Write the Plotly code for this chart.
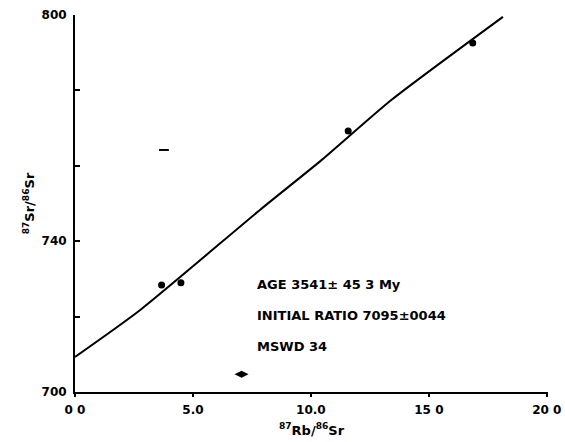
import plotly.graph_objects as go

# data
rb_sr = [3.67, 4.49, 11.58, 16.86]
sr_sr = [728.4, 729.0, 769.2, 792.6]
outlier_x = [7.06]
outlier_y = [704.7]
mark_x = [3.77]
mark_y = [764.2]
fit_x = [0.0, 2.75, 7.84, 10.45, 13.42, 18.14]
fit_y = [709.3, 721.7, 748.3, 761.5, 777.5, 799.5]

x_ticks = [0, 5, 10, 15, 20]
x_tick_text = ["0 0", "5.0", "10.0", "15 0", "20 0"]
y_ticks = [700, 740, 800]
y_tick_text = ["700", "740", "800"]

annot_lines = ["AGE 3541± 45 3 My", "INITIAL RATIO 7095±0044", "MSWD 34"]
annot_y = [728.4, 720.4, 712.2]

FONT = "Liberation Sans"
AFONT = "DejaVu Sans"

fig = go.Figure()
fig.add_trace(go.Scatter(x=fit_x, y=fit_y, mode="lines",
                         line=dict(color="black", width=2, shape="spline", smoothing=0.6),
                         hoverinfo="skip"))
fig.add_trace(go.Scatter(x=rb_sr, y=sr_sr, mode="markers",
                         marker=dict(color="black", size=7)))
fig.add_trace(go.Scatter(x=outlier_x, y=outlier_y, mode="markers",
                         marker=dict(color="black", size=10, symbol="diamond-wide")))
fig.add_trace(go.Scatter(x=mark_x, y=mark_y, mode="markers",
                         marker=dict(color="black", size=7, symbol="line-ew",
                                     line=dict(color="black", width=2))))

for t, yv in zip(annot_lines, annot_y):
    fig.add_annotation(x=7.63, y=yv, xref="x", yref="y", text="<b>" + t + "</b>",
                       showarrow=False, xanchor="left", yanchor="middle",
                       font=dict(family=AFONT, size=13, color="black"))

fig.update_layout(
    width=565, height=442,
    margin=dict(l=75, r=17, t=15, b=50),
    paper_bgcolor="white", plot_bgcolor="white",
    showlegend=False,
    font=dict(family=FONT, color="black"),
    xaxis=dict(range=[0, 20.05], tickvals=x_ticks, ticktext=["<b>" + t + "</b>" for t in x_tick_text],
               automargin=False,
               showgrid=False, zeroline=False, showline=True, linecolor="black", linewidth=2,
               ticks="outside", ticklen=3, tickwidth=2, tickcolor="black",
               ticklabelstandoff=3,
               tickfont=dict(family=AFONT, size=12, color="black"),
               title=dict(text="<b><sup>87</sup>Rb/<sup>86</sup>Sr</b>", standoff=9,
                          font=dict(family=AFONT, size=13, color="black"))),
    yaxis=dict(range=[700, 800], tickvals=y_ticks, ticktext=["<b>" + t + "</b>" for t in y_tick_text],
               automargin=False,
               showgrid=False, zeroline=False, showline=True, linecolor="black", linewidth=2,
               ticks="inside", ticklen=5, tickwidth=2, tickcolor="black",
               ticklabelstandoff=4,
               minor=dict(dtick=20, tick0=700, ticks="inside", ticklen=5, tickwidth=2, tickcolor="black"),
               tickfont=dict(family=AFONT, size=12, color="black"),
               title=dict(text="<b><sup>87</sup>Sr/<sup>86</sup>Sr</b>", standoff=4,
                          font=dict(family=AFONT, size=13, color="black"))),
)

fig.write_html("out.html", config={"displayModeBar": False},
               post_script="document.body.style.margin='0';")
